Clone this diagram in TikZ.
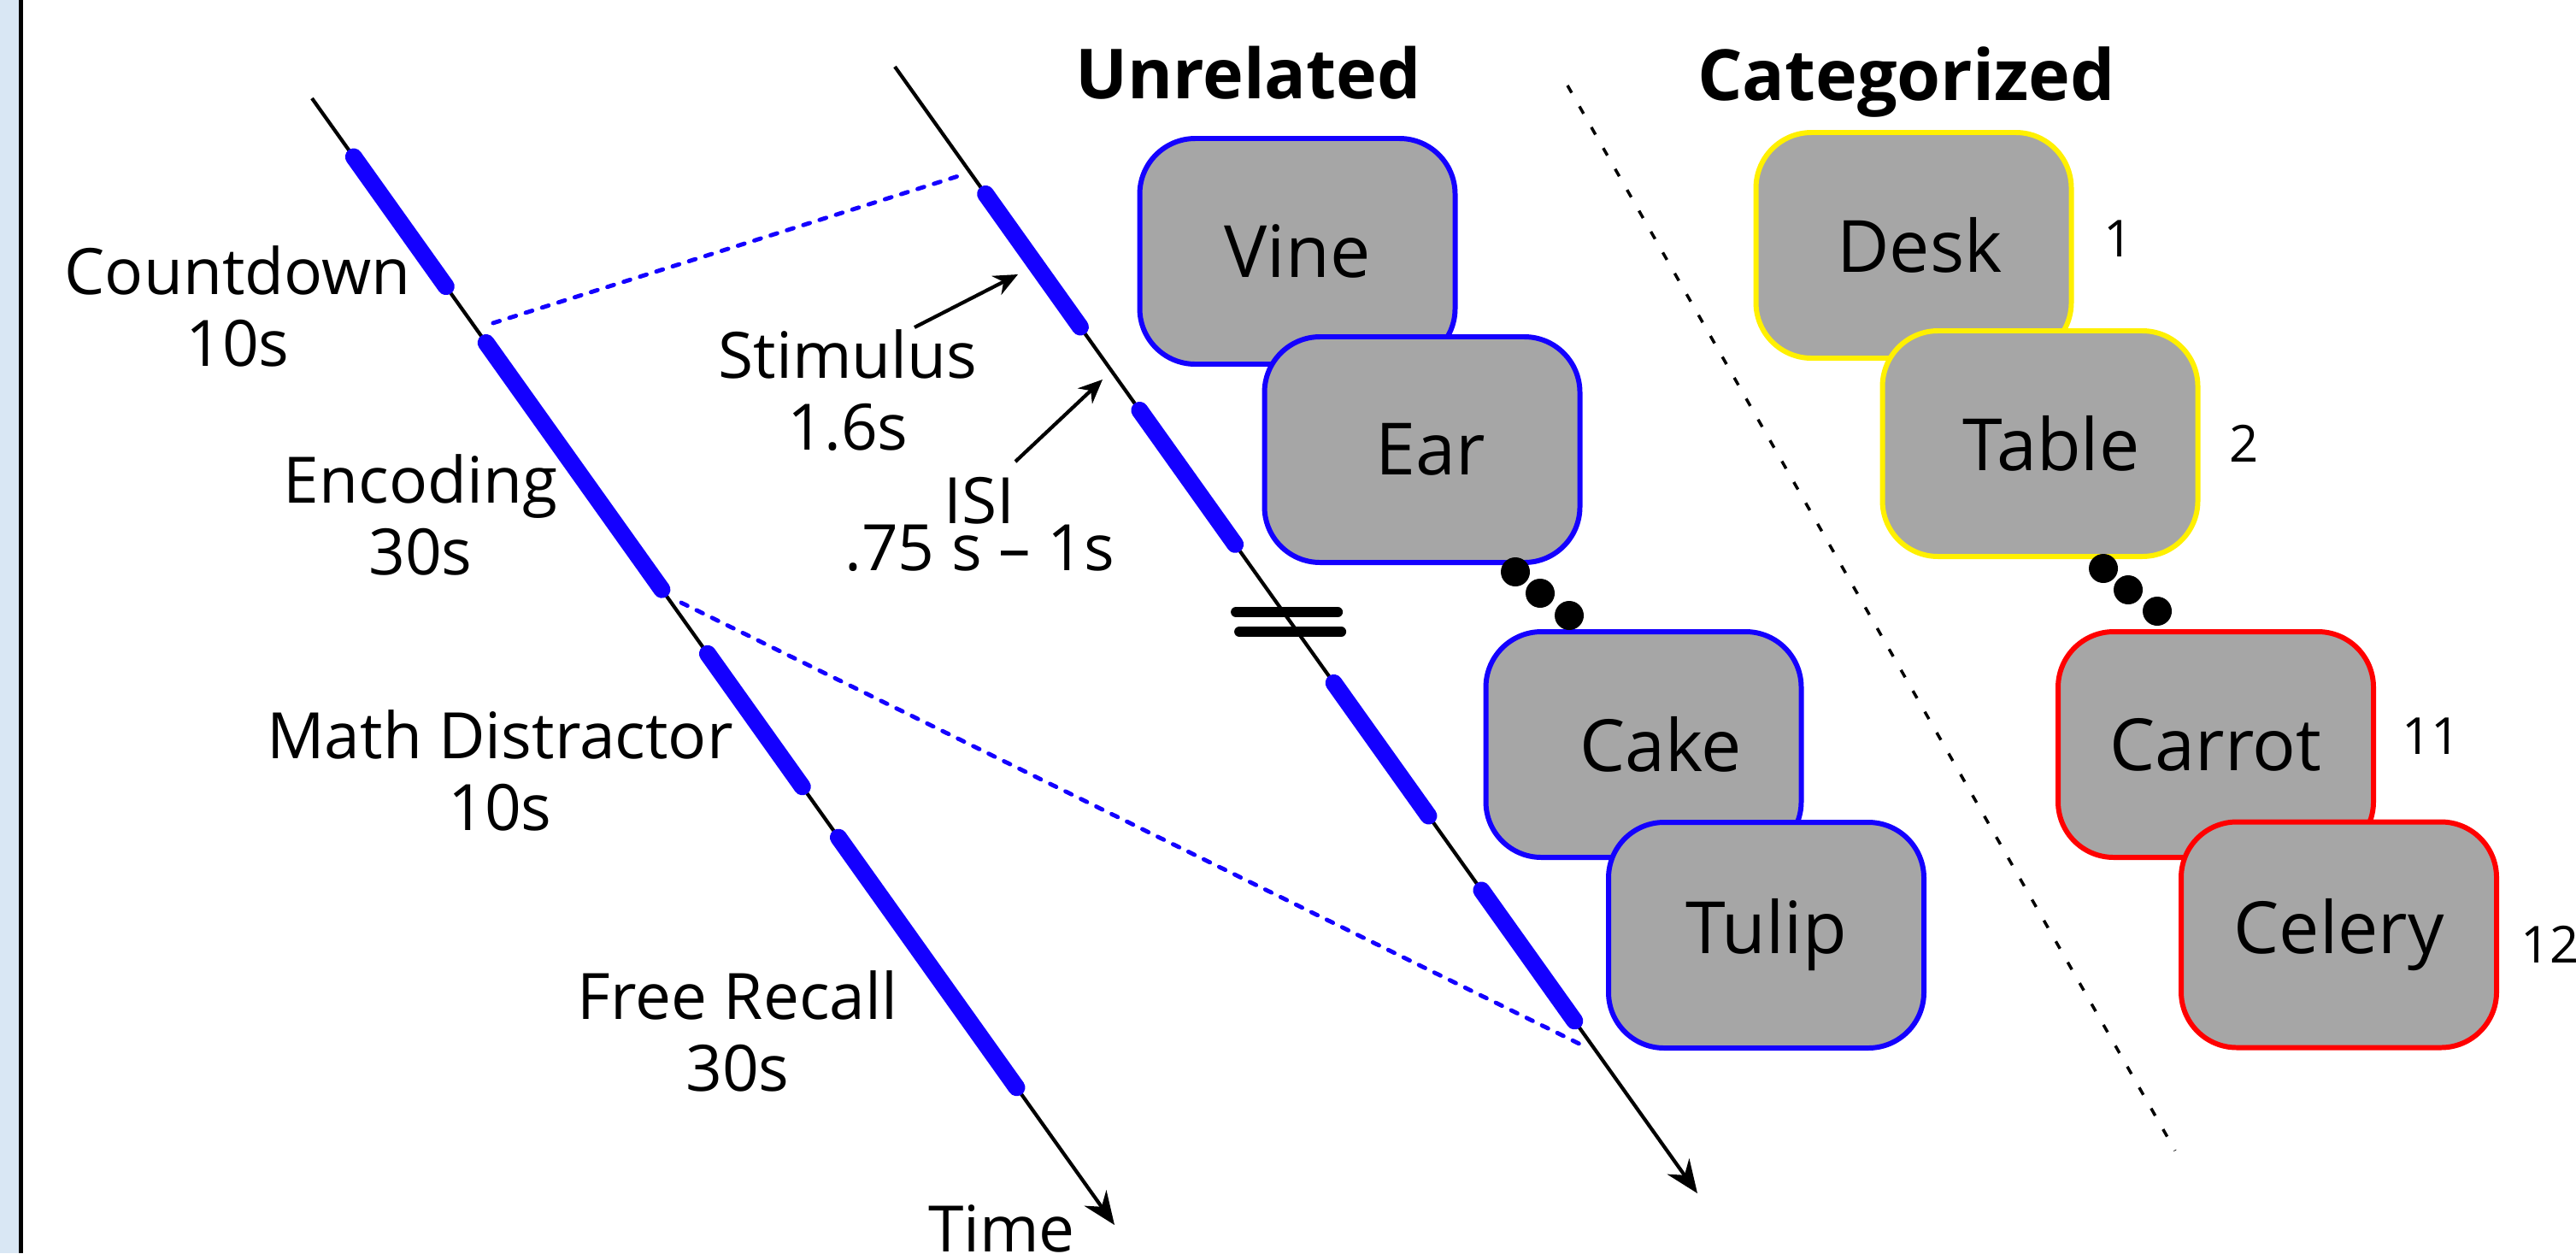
\documentclass[tikz,border=0pt]{standalone}
\usepackage{fontspec}
\setmainfont{Open Sans}
\usetikzlibrary{positioning,calc,arrows.meta}

\definecolor{stripblue}{HTML}{D9E7F4}
\definecolor{cardgray}{HTML}{A6A6A6}
\definecolor{phaseblue}{HTML}{1400FF}
\definecolor{catyellow}{HTML}{FFF000}
\definecolor{catred}{HTML}{FF0000}

\begin{document}
\begin{tikzpicture}[
  timeline/.style={line width=1.2pt,-{Stealth[length=11pt,width=9pt]}},
  phase/.style={draw=phaseblue,line width=5.7pt,line cap=round},
  zoomline/.style={draw=phaseblue,line width=1.4pt,line cap=round,
    dash pattern=on 2.3pt off 3.4pt},
  pointer/.style={draw,line width=1.2pt,-{Stealth[length=8pt,width=7pt]}},
  card/.style={draw=phaseblue,fill=cardgray,line width=1.7pt,
    rounded corners=0.65cm,minimum width=3.69cm,minimum height=2.64cm,
    inner sep=0pt,font=\fontsize{24}{28}\selectfont},
  rank/.style={inner sep=0pt,font=\fontsize{17}{20}\selectfont},
  ]
  \useasboundingbox (0,0) rectangle (30.14,-14.66);
  \fill[stripblue] (0,0) rectangle (0.22,-14.66);
  \draw[line width=0.05cm] (0.245,0) -- (0.245,-14.66);

  % session line and list line
  \coordinate(session) at (3.65,-1.15);
  \coordinate(session-end) at ($(session)+(9.39,-13.18)$);
  \coordinate(list) at ($(session)+(6.82,0.37)$);
  \coordinate(list-end) at ($(list)+(9.39,-13.18)$);
  \foreach \name/\from/\to in {countdown/0.052/0.167,encoding/0.217/0.436,
      distractor/0.493/0.611,recall/0.656/0.878}{
    \coordinate(\name-a) at ($(session)!\from!(session-end)$);
    \coordinate(\name-b) at ($(session)!\to!(session-end)$);
  }
  \foreach \name/\from/\to in {item1/0.113/0.231,item2/0.305/0.424,
      item3/0.547/0.665,item4/0.731/0.847}{
    \coordinate(\name-a) at ($(list)!\from!(list-end)$);
    \coordinate(\name-b) at ($(list)!\to!(list-end)$);
  }
  \coordinate(skip) at ($(list)!0.4932!(list-end)$);

  \draw[timeline] (session) -- (session-end);
  \draw[timeline] (list) -- (list-end);
  \foreach \name in {countdown,encoding,distractor,recall,item1,item2,item3,item4}
    \draw[phase] (\name-a) -- (\name-b);
  \draw[line width=0.12cm,line cap=round]
    ($(skip)+(-0.64,0.12)$) -- ++(1.19,0)
    ($(skip)+(-0.60,-0.11)$) -- ++(1.19,0);

  % zoom from the encoding phase onto the list
  \coordinate(zoom-top) at ($(session)!0.2043!(session-end)$);
  \coordinate(zoom-bottom) at ($(session)!0.441!(session-end)$);
  \coordinate(list-top) at ($(list)!0.0938!(list-end)$);
  \coordinate(list-bottom) at ($(list)!0.875!(list-end)$);
  \path
  (zoom-top)    edge[zoomline,shorten <=0.21cm,shorten >=0.15cm] (list-top)
  (zoom-bottom) edge[zoomline,shorten <=0.20cm,shorten >=0.20cm] (list-bottom);

  \begin{scope}[
    every node/.style={
      anchor=base,
      align=center,
      inner sep=0pt,
      font=\fontsize{21.3}{23.9}\selectfont,
    },
    ]
    \node (countdown) at (2.78,-4.28)  {Countdown\\10s};
    \node (encoding)  at (4.92,-6.72)  {Encoding\\30s};
    \node (math)      at (5.85,-9.71)  {Math Distractor\\10s};
    \node (recall)    at (8.63,-12.76) {Free Recall\\30s};
    \node (time)      at (11.72,-14.64) {Time};
    \node (stimulus)  at (9.92,-5.26)  {Stimulus\\1.6s};
    \node (isi)       at (11.46,-6.67) {ISI\\[-8.3pt].75 s -- 1s};
  \end{scope}
  \coordinate(stim-tail) at (10.70,-3.83);
  \coordinate(stim-tip)  at (11.91,-3.21);
  \coordinate(isi-tail)  at (11.88,-5.40);
  \coordinate(isi-tip)   at (12.90,-4.44);
  \path
  (stim-tail) edge[pointer] (stim-tip)
  (isi-tail)  edge[pointer] (isi-tip);

  % word lists
  \node[anchor=base,font=\bfseries\fontsize{23}{26}\selectfont]
    (unrelated) at (14.605,-1.15) {Unrelated};
  \node[anchor=base,font=\bfseries\fontsize{23.5}{26}\selectfont]
    (categorized) at (22.305,-1.17) {Categorized};
  \draw[line width=1pt,dash pattern=on 2.8pt off 5.2pt]
    (18.34,-1.00) -- (25.45,-13.46);

  \node[card] (vine)  at (15.18,-2.94) {Vine};
  \node[card] (ear)   at ($(vine)+(1.46,-2.32)$) {\hspace*{0.2cm}Ear};
  \node[card] (cake)  at (19.23,-8.71) {\hspace*{0.4cm}Cake};
  \node[card] (tulip) at ($(cake)+(1.435,-2.23)$) {Tulip};

  \node[card,draw=catyellow] (desk)   at (22.39,-2.87) {\hspace*{0.14cm}Desk};
  \node[card,draw=catyellow] (table)  at ($(desk)+(1.48,-2.32)$) {\hspace*{0.26cm}Table};
  \node[card,draw=catred]    (carrot) at (25.925,-8.71) {Carrot};
  \node[card,draw=catred]    (celery) at ($(carrot)+(1.44,-2.225)$) {Celery};

  \node[rank,right=0.34cm of desk,yshift=0.08cm]    (r1)  {1};
  \node[rank,right=0.33cm of table]                 (r2)  {2};
  \node[rank,right=0.30cm of carrot,yshift=0.10cm]  (r11) {11};
  \node[rank,right=0.25cm of celery,yshift=-0.11cm] (r12) {12};

  \foreach \x/\y in {17.73/-6.69,18.02/-6.94,18.36/-7.20,
                     24.61/-6.65,24.90/-6.90,25.24/-7.15}
    \fill (\x,\y) circle (0.17);
\end{tikzpicture}
\end{document}
